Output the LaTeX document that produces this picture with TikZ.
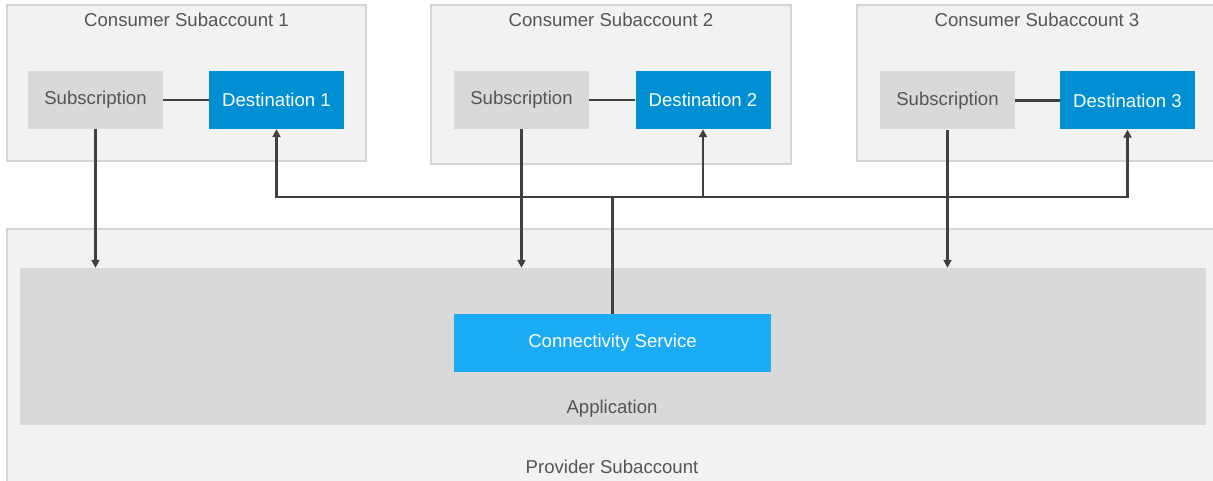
\documentclass[tikz,border=0pt]{standalone}
\usepackage{fontspec}
\setmainfont{Liberation Sans}
\usetikzlibrary{arrows.meta}
\definecolor{ink}{RGB}{64,64,64}
\definecolor{labelgray}{RGB}{85,85,85}
\definecolor{panelfill}{RGB}{242,242,242}
\definecolor{panelline}{RGB}{212,212,212}
\definecolor{boxgray}{RGB}{217,217,217}
\definecolor{destblue}{RGB}{0,143,211}
\definecolor{serviceblue}{RGB}{27,171,245}

\begin{document}
\begin{tikzpicture}[
  x=1pt,y=-1pt,
  font=\fontsize{18.6}{21}\selectfont,
  flow/.style={-{Triangle[length=8pt,width=8pt]}, draw=ink,
               line width=2.3pt},
  link/.style={draw=ink, line width=2.3pt},
  panel/.style={draw=panelline, fill=panelfill, line width=1.2pt,
                inner sep=0pt},
  title/.style={text=labelgray},
  subbox/.style={fill=boxgray, text=labelgray, inner sep=0pt,
                 minimum width=135pt, minimum height=58pt},
  destbox/.style={fill=destblue, text=white, inner sep=0pt,
                  minimum width=135pt, minimum height=58pt}
]
\useasboundingbox[fill=white] (0,0) rectangle (1213,481);

% Provider side sits underneath everything else.
\node[panel, minimum width=1207pt, minimum height=256pt]
  (provider) at (610.5,357) {};
\node[fill=boxgray, inner sep=0pt, minimum width=1186pt,
      minimum height=157pt] (app) at (613,346.5) {};
\node[title] (applabel) at (612,409) {Application};
\node[title] (providerlabel) at (612,467) {Provider Subaccount};
\node[fill=serviceblue, text=white, inner sep=0pt, minimum width=317pt,
      minimum height=58pt] (conn) at (612.5,343) {Connectivity Service};

% Consumer subaccounts.
\node[panel, minimum width=359pt, minimum height=156pt]
  (cons1) at (186.5,83) {};
\node[title] (cons1title) at (186.5,20) {Consumer Subaccount 1};
\node[subbox] (sub1) at (95.5,100) {Subscription};
\node[destbox] (dest1) at (276.5,100) {Destination 1};

\node[panel, minimum width=360pt, minimum height=159pt]
  (cons2) at (611,84.5) {};
\node[title] (cons2title) at (611,20) {Consumer Subaccount 2};
\node[subbox] (sub2) at (521.5,100) {Subscription};
\node[destbox] (dest2) at (703,100) {Destination 2};

\node[panel, minimum width=357pt, minimum height=156pt]
  (cons3) at (1035.5,83) {};
\node[title] (cons3title) at (1037,20) {Consumer Subaccount 3};
\node[subbox] (sub3) at (947.5,100.5) {Subscription};
\node[destbox] (dest3) at (1127.5,100.5) {Destination 3};

\draw[link] (sub1) -- (dest1);
\draw[link] (sub2) -- (dest2);
\draw[link] (sub3) -- (dest3);

% Subscriptions point down into the application.
\draw[flow] (sub1.south) -- (sub1.south |- app.north);
\draw[flow] (sub2.south) -- (sub2.south |- app.north);
\draw[flow] (sub3.south) -- (sub3.south |- app.north);

% The service fans out to every destination.
\coordinate (bus) at (612.5,197);
\draw[link] (conn.north) -- (bus);
\draw[flow] (bus) -| (dest1.south);
\draw[flow] (bus) -| (dest2.south);
\draw[flow] (bus) -| (dest3.south);

\end{tikzpicture}
\end{document}
